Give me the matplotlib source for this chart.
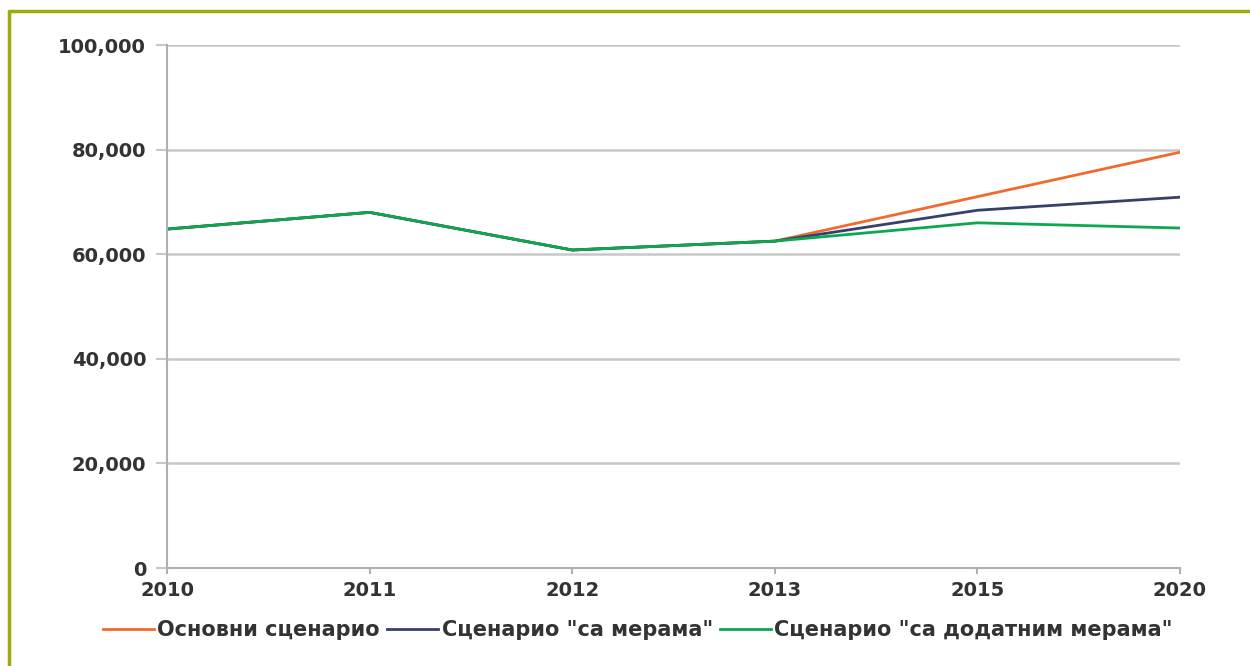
import matplotlib
matplotlib.use("Agg")
import matplotlib.pyplot as plt
from matplotlib.lines import Line2D
from matplotlib.ticker import FuncFormatter

years = ["2010", "2011", "2012", "2013", "2015", "2020"]
osnovni = [64800, 68000, 60800, 62500, 71000, 79500]
sa_merama = [64800, 68000, 60800, 62500, 68400, 70900]
sa_dodatnim = [64800, 68000, 60800, 62500, 66000, 65000]
labels = ['Основни сценарио', 'Сценарио "са мерама"', 'Сценарио "са додатним мерама"']
colors = ['#f26a2e', '#36406a', '#0aa84f']

plt.rcParams['font.family'] = ['DejaVu Sans']
plt.rcParams['font.weight'] = 'bold'
text_col = '#333333'

W, H = 1250, 666
fig = plt.figure(figsize=(W / 100, H / 100), dpi=100)
ax = fig.add_axes([167 / W, (H - 568) / H, (1180 - 167) / W, (568 - 45) / H])

x = list(range(len(years)))
for series, lab, col in zip([osnovni, sa_merama, sa_dodatnim], labels, colors):
    ax.plot(x, series, color=col, lw=2.0, label=lab, solid_joinstyle='round')

ax.set_xlim(0, len(years) - 1)
ax.set_ylim(0, 100000)
ax.set_yticks(range(0, 100001, 20000))
ax.yaxis.set_major_formatter(FuncFormatter(lambda v, p: f"{int(v):,}"))
ax.set_xticks(x)
ax.set_xticklabels(years)

ax.grid(axis='y', color='#c8c8c8', lw=1.8)
ax.set_axisbelow(True)
for s in ['top', 'right']:
    ax.spines[s].set_visible(False)
for s in ['left', 'bottom']:
    ax.spines[s].set_color('#b0b0b0')
    ax.spines[s].set_linewidth(1.5)
ax.tick_params(axis='y', length=8, width=1.5, color='#c8c8c8', pad=7,
               labelsize=14, labelcolor=text_col)
ax.tick_params(axis='x', length=4, width=1.5, color='#b0b0b0', pad=5,
               labelsize=14, labelcolor=text_col)

leg = fig.legend(loc='center', bbox_to_anchor=(638 / W, (H - 630) / H), ncol=3,
                 frameon=False, fontsize=15, handlelength=2.45, handletextpad=0.15,
                 columnspacing=0.35)
for t in leg.get_texts():
    t.set_color(text_col)

border_col = '#9aad0a'
fig.add_artist(Line2D([9 / W, 9 / W], [0, (H - 10) / H], color=border_col, lw=2.5,
                      transform=fig.transFigure, solid_capstyle='butt'))
fig.add_artist(Line2D([8 / W, 1], [(H - 11) / H, (H - 11) / H], color=border_col, lw=2.5,
                      transform=fig.transFigure, solid_capstyle='butt'))

fig.savefig("out.png", dpi=100, facecolor='white')
